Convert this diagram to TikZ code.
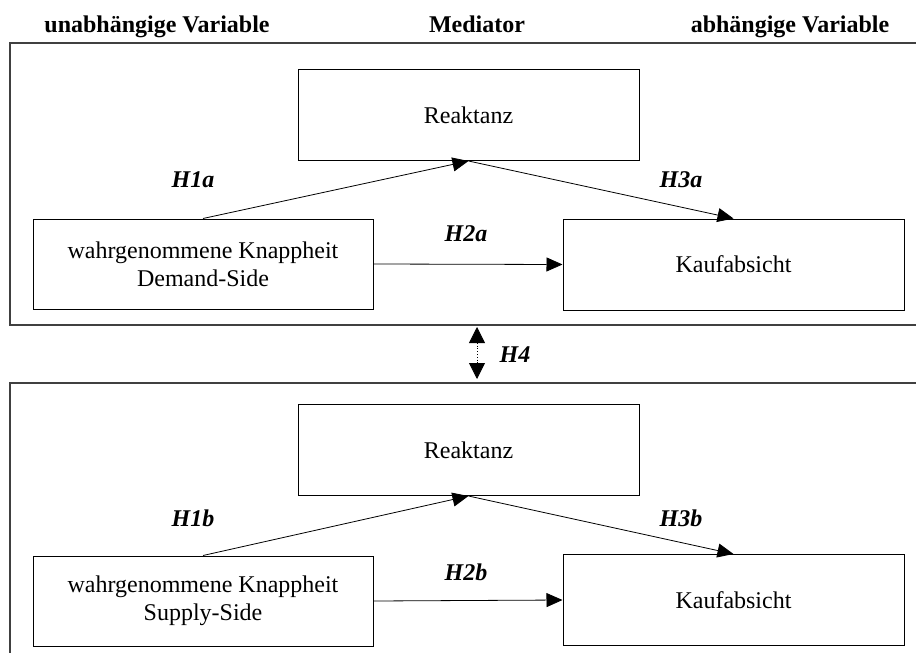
\documentclass[tikz,border=0pt]{standalone}
\usepackage{fontspec}
\setmainfont{Liberation Serif}
\usetikzlibrary{arrows.meta}

\begin{document}
\begin{tikzpicture}[x=0.5pt, y=-0.5pt,
    font=\fontsize{12}{14}\selectfont,
    box/.style={draw, line width=0.5pt, align=center, inner sep=0pt},
    links/.style={box, minimum width=170pt, minimum height=45pt},
    rechts/.style={box, minimum width=170.5pt, minimum height=45.5pt},
    hypo/.style={font=\fontsize{12}{14}\selectfont\bfseries\itshape, text depth=0pt},
    kopf/.style={font=\fontsize{12}{14}\selectfont\bfseries, text depth=0pt},
    rahmen/.style={draw=black!75, line width=0.8pt},
    pfeil/.style={-{Triangle[length=8pt, width=7pt]}, line width=0.4pt}]
    \useasboundingbox (0,0) rectangle (916,653);
    \clip (0,0) rectangle (916,653);
    \node[kopf] (uv) at (157,24) {unabhängige Variable};
    \node[kopf] (med) at (477,24) {Mediator};
    \node[kopf] (av) at (790,24) {abhängige Variable};
    % Demand-Side
    \draw[rahmen] (10,43) rectangle (925,325);
    \node[rechts] (reakA) at (468.5,115) {Reaktanz};
    \node[links] (knappA) at (203,264) {wahrgenommene Knappheit\\Demand-Side};
    \node[rechts] (kaufA) at (733.5,264.5) {Kaufabsicht};
    \draw[pfeil] (knappA.north) -- (reakA.south);
    \draw[pfeil] (reakA.south) -- (kaufA.north);
    \draw[pfeil] (knappA.east) -- (kaufA.west);
    \node[hypo] (h1a) at (193,180) {H1a};
    \node[hypo] (h2a) at (466,234) {H2a};
    \node[hypo] (h3a) at (681,180) {H3a};
    % H4
    \coordinate (h4o) at (477,327);
    \coordinate (h4u) at (477,379);
    \draw[densely dotted, line width=0.4pt,
      {Triangle[length=8pt, width=8pt]}-{Triangle[length=8pt, width=8pt]}] (h4o) -- (h4u);
    \node[hypo] (h4) at (515,355) {H4};
    % Supply-Side
    \draw[rahmen] (10,383) rectangle (925,670);
    \node[rechts] (reakB) at (468.5,450) {Reaktanz};
    \node[links] (knappB) at (203,601) {wahrgenommene Knappheit\\Supply-Side};
    \node[rechts] (kaufB) at (733.5,600) {Kaufabsicht};
    \draw[pfeil] (knappB.north) -- (reakB.south);
    \draw[pfeil] (reakB.south) -- (kaufB.north);
    \draw[pfeil] (knappB.east) -- (kaufB.west);
    \node[hypo] (h1b) at (193,518) {H1b};
    \node[hypo] (h2b) at (466,572) {H2b};
    \node[hypo] (h3b) at (681,518) {H3b};
\end{tikzpicture}
\end{document}
